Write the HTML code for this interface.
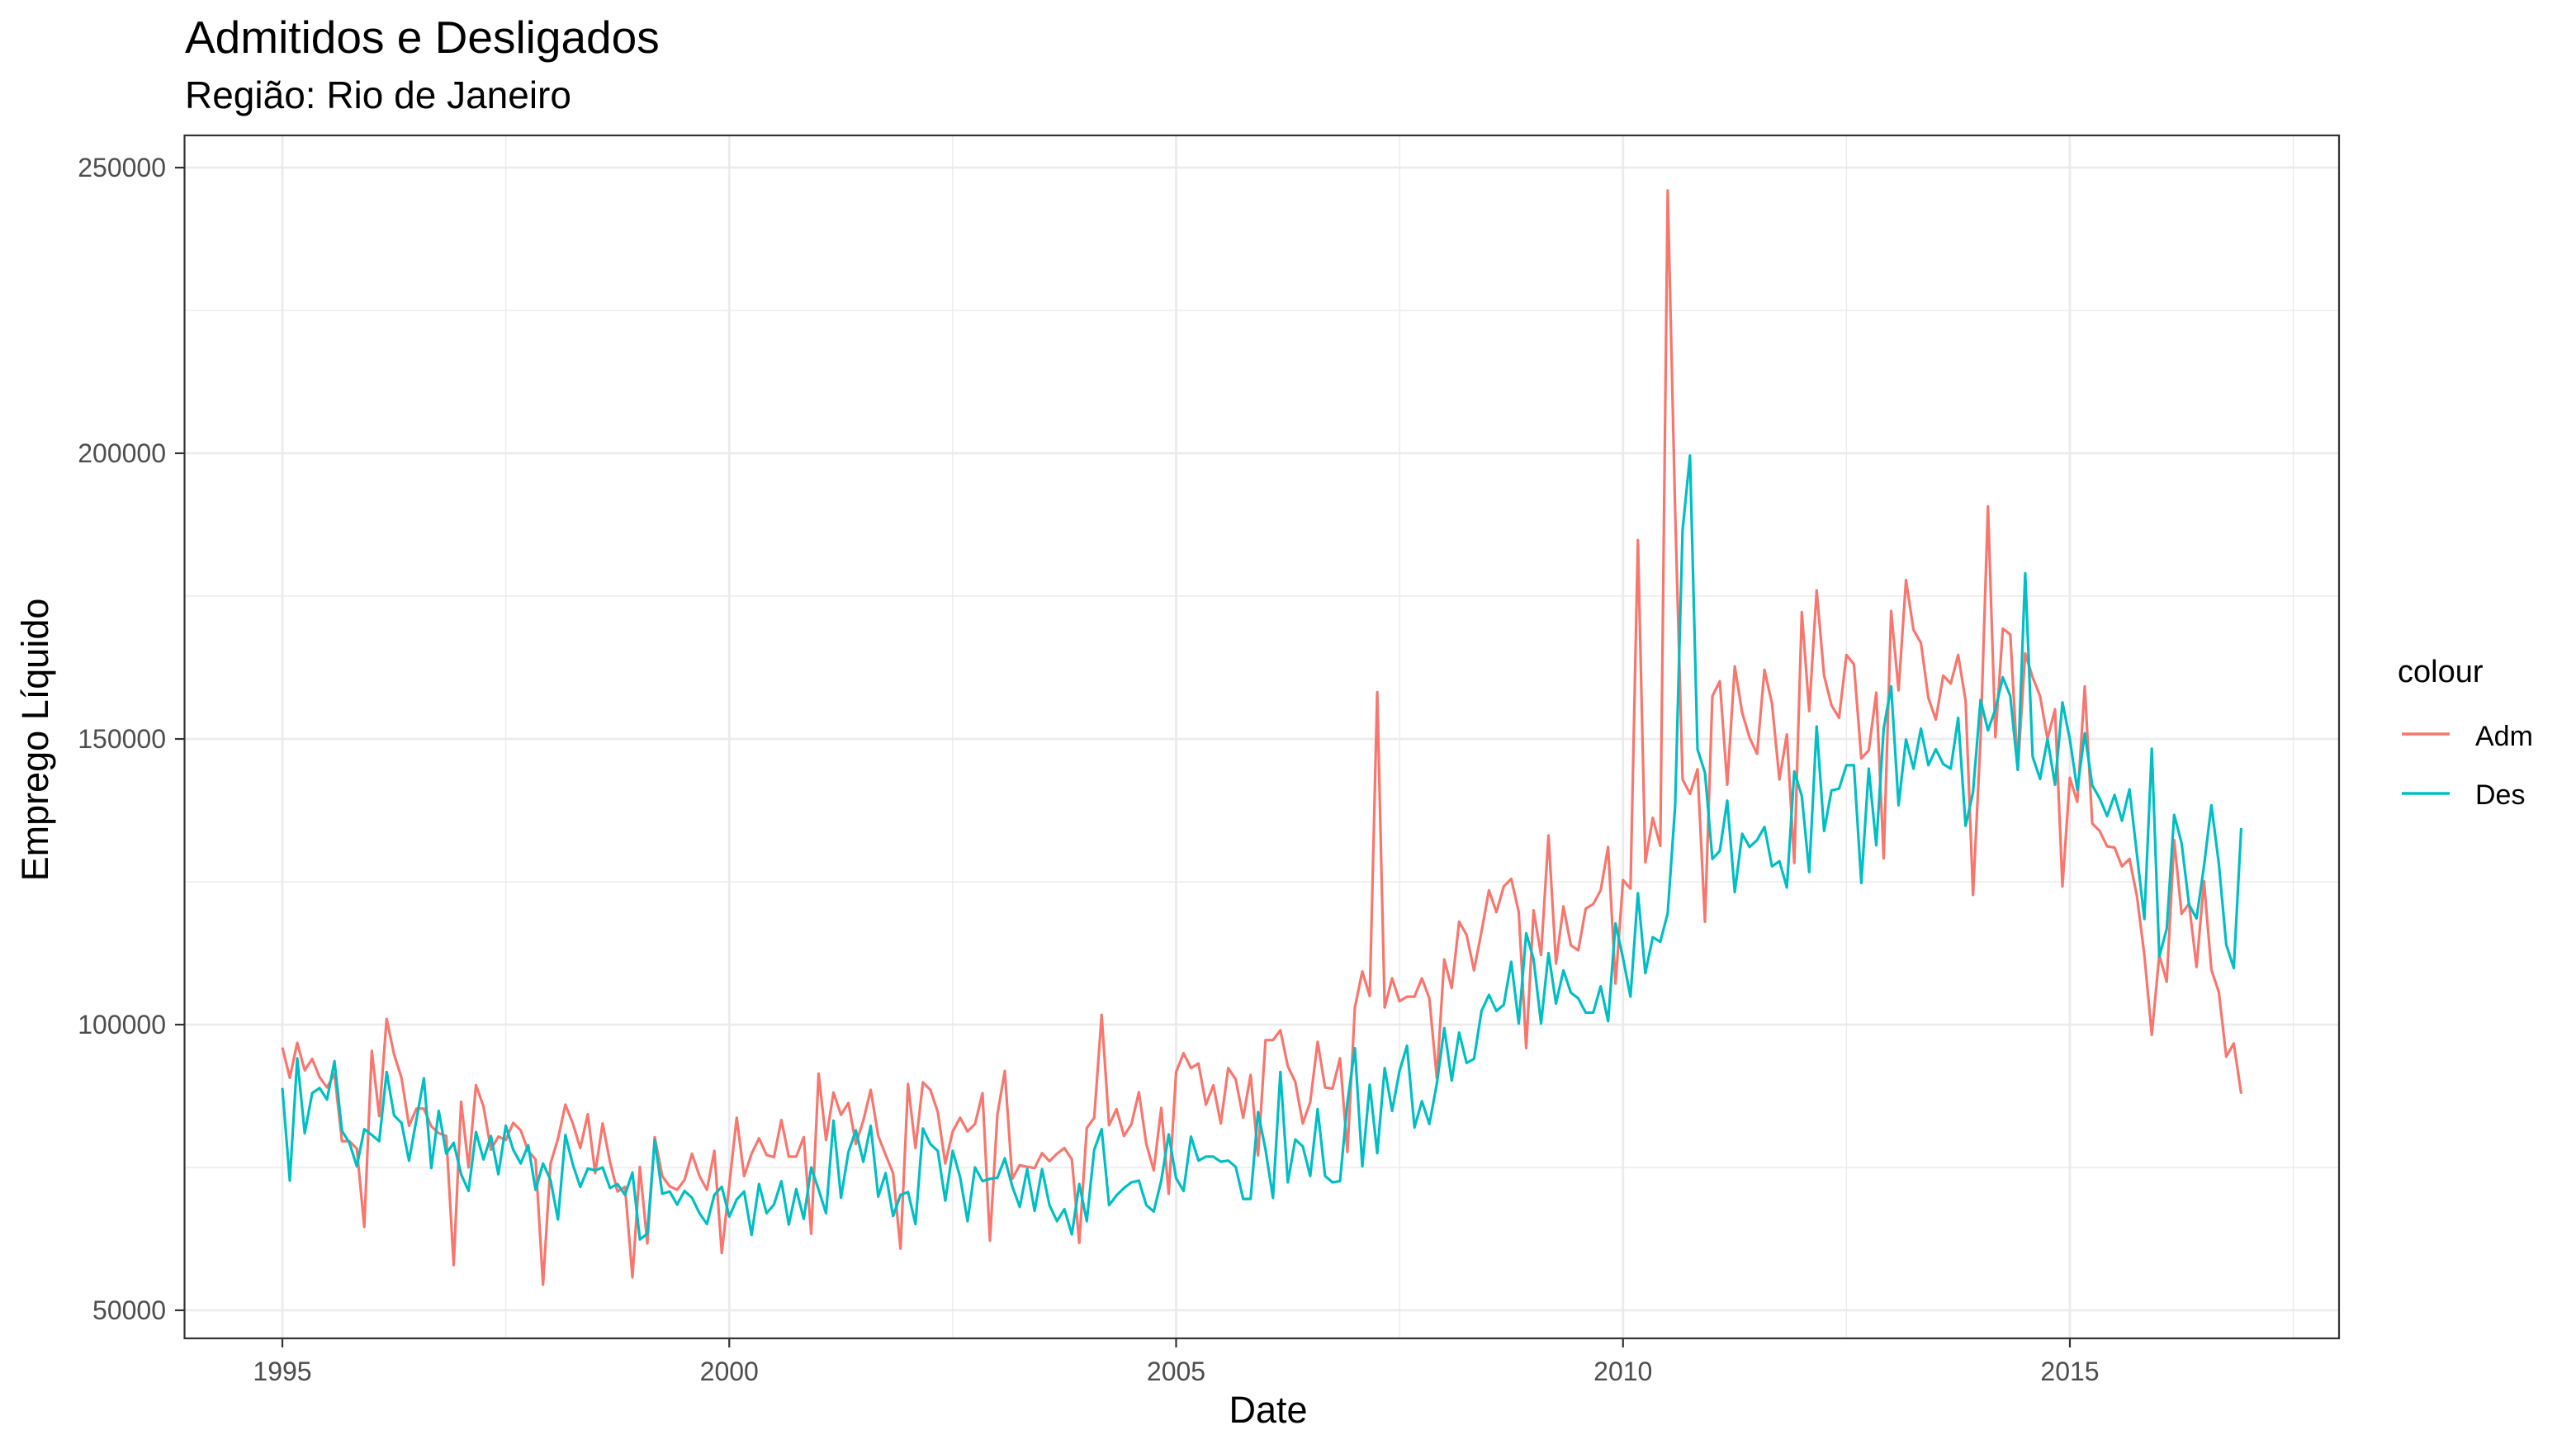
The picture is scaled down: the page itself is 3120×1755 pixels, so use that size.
<!DOCTYPE html>
<html><head><meta charset="utf-8"><style>
html,body{margin:0;padding:0;background:#fff;}
svg{display:block;font-family:"Liberation Sans",Arial,sans-serif;}
</style></head><body>
<svg id="chart" width="3120" height="1755" viewBox="0 0 3120 1755" xmlns="http://www.w3.org/2000/svg">
<rect x="0" y="0" width="3120" height="1755" fill="#fff"/>
<text x="224" y="64" font-size="55" fill="#000">Admitidos e Desligados</text>
<text x="224" y="131" font-size="46" fill="#000">Região: Rio de Janeiro</text>
<g id="grid"></g>
<g id="series"></g>
<rect x="223.5" y="164" width="2609.5" height="1457" fill="none" stroke="#333" stroke-width="2.2"/>
<g id="axes"></g>
<text x="1536" y="1723" font-size="45" text-anchor="middle" fill="#000">Date</text>
<text x="0" y="0" font-size="45" text-anchor="middle" fill="#000" transform="translate(58,896) rotate(-90)">Emprego Líquido</text>
<g>
<text x="2904" y="826" font-size="38" fill="#000">colour</text>
<line x1="2909" y1="889" x2="2967" y2="889" stroke="#F8766D" stroke-width="3.5"/>
<text x="2998" y="903" font-size="34" fill="#000">Adm</text>
<line x1="2909" y1="961" x2="2967" y2="961" stroke="#00BFC4" stroke-width="3.5"/>
<text x="2998" y="974" font-size="34" fill="#000">Des</text>
</g>
</svg>
<script>
const startYear = 1995;
const admValues = [
96,90.7,96.8,92,94,90.8,89,91.4,79.6,79.6,78.3,64.6,
95.4,84,101,94.8,90.7,82.3,85.3,85.3,82.2,81,80.5,57.9,
86.5,75,89.4,85.7,78.1,80.4,79.8,82.8,81.5,77.9,76.4,54.5,
75.7,80,86,82.7,78.4,84.3,74,82.7,75.9,70.8,71.6,55.8,
75.1,61.7,80.3,73.5,71.7,71.1,72.8,77.4,73.5,71.1,77.9,60,
72,83.7,73.5,77.4,80.1,77.2,76.8,83.3,76.9,76.9,80.3,63.4,
91.4,79.8,88.1,84.2,86.3,79.1,83.2,88.6,80.5,77.2,74,60.8,
89.6,78.4,89.9,88.6,84.7,75.7,81.3,83.7,81.3,82.6,88,62.2,
84.2,91.9,73,75.4,75.1,74.9,77.5,76.1,77.4,78.4,76.4,61.8,
81.9,83.7,101.7,82.4,85.2,80.5,82.6,88.2,79.1,74.5,85.4,70.4,
91.7,95,92.4,93.2,86,89.4,82.7,92.4,90.4,83.7,91.2,77.1,
97.3,97.3,99,92.7,90,82.7,86.4,97,89,88.8,94.1,77.7,
103,109.3,105,158.2,103,108.1,104.1,104.9,104.9,108.1,104.6,90.7,
111.4,106.4,118,115.7,109.5,116.3,123.5,119.7,124.2,125.5,119.7,95.9,
120,112.2,133.1,110.7,120.7,113.9,113,120.3,121.1,123.5,131.1,107.2,
125.3,123.8,184.8,128.4,136.2,131.3,246,190,142.9,140.4,144.7,118,
157.5,160.1,142,162.7,154.6,150.2,147.4,162.1,156.2,142.9,150.8,128.3,
172.2,154.9,176,161.1,155.9,153.7,164.7,163.1,146.6,148,158.1,129.1,
172.4,158.5,177.8,169.1,166.8,157.2,153.4,161.1,159.7,164.7,156.7,122.7,
150,190.7,150.3,169.3,168.3,144.6,165,160.8,157.5,150,155.2,124.2,
143.2,139,159.2,135.2,133.9,131.2,131,127.7,129,122.5,112.2,98.2,
112.2,107.5,132.3,119.4,121.2,110.1,125.1,109.6,105.7,94.4,96.7,87.9];
const desValues = [
88.9,72.7,94.1,81,88,88.9,86.9,93.6,81.4,79.3,75.2,81.7,
80.7,79.6,91.7,84.1,82.8,76.2,83.4,90.6,74.9,84.9,77.4,79.3,
73.8,70.9,81.2,76.4,80.5,73.8,82.3,78.1,75.7,78.9,71.1,75.7,
72.8,65.9,80.7,75.5,71.6,74.8,74.5,75,71.4,72.1,70.2,74.1,
62.4,63.4,79.8,70.4,70.8,68.5,70.9,69.7,67,65.1,70.2,71.6,
66.4,69.4,70.8,63.2,72.1,67,68.5,72.6,65,71.2,66,75,
71.1,67,83.2,69.7,77.7,81.5,76,82.3,69.9,74,66.5,70.2,
70.7,65.1,81.8,79.1,77.9,69.2,77.9,73.3,65.6,75,72.6,73,
73.2,76.6,71.7,68.1,74.7,67.4,74.7,68.4,65.6,67.7,63.3,72.1,
65.6,78.1,81.7,68.4,70.1,71.4,72.4,72.7,68.4,67.3,72.7,80.8,
73.1,70.9,80.4,76.2,76.9,76.9,76,76.2,75.1,69.5,69.5,84.7,
78.1,69.7,91.7,72.4,79.9,78.7,73.5,85.2,73.5,72.4,72.6,86.4,
95.9,75.2,89.5,77.5,92.4,84.9,91.9,96.3,82,86.6,82.6,89.6,
99.4,90.2,98.6,93.3,94,102.4,105.2,102.4,103.5,111,100.2,116,
111.4,100.2,112.5,103.7,109.5,105.6,104.6,102.1,102.1,106.7,100.6,117.7,
111.6,104.9,123,109,115.3,114.5,119.5,138.3,186.5,199.6,148.2,144.1,
129,130.4,139.2,123.2,133.4,131.1,132.3,134.6,127.7,128.6,124,144.3,
140,126.7,152.2,133.9,141,141.3,145.4,145.4,124.8,144.8,131.4,151.8,
159.2,138.4,149.9,144.8,151.8,145.4,148.2,145.6,144.8,153.7,134.8,140.7,
156.8,151.5,155.2,160.8,157.5,144.6,179,146.9,143,150,142,156.4,
149.9,141.1,151,141.9,139.6,136.5,140.2,135.7,141.2,129.8,118.5,148.3,
111.9,116.8,136.7,131.8,121,118.6,127.7,138.4,128.2,114,109.9,134.4];
const xTickLabels = ["1995","2000","2005","2010","2015"];
const xTickYears = [1995,2000,2005,2010,2015];
const xMinorYears = [1997.5,2002.5,2007.5,2012.5,2017.5];
const yTickLabels = ["50000","100000","150000","200000","250000"];
const yTickValues = [50000,100000,150000,200000,250000];
const yMinorValues = [75000,125000,175000,225000];

const NS = "http://www.w3.org/2000/svg";
const PL = 223.5, PR = 2833, PT = 164, PB = 1621;
function xScale(year){ return 342 + (year - 1995) * 108.25; }
function yScale(v){ return 1587 - (v - 50000) * (1384 / 200000); }
function mk(tag, attrs, parent){
  const el = document.createElementNS(NS, tag);
  for (const k in attrs) el.setAttribute(k, attrs[k]);
  parent.appendChild(el);
  return el;
}
const grid = document.getElementById('grid');
yMinorValues.forEach(v => {
  const l = mk('line', {x1:PL, x2:PR, y1:yScale(v), y2:yScale(v), stroke:'#ebebeb', 'stroke-width':1.4}, grid);
  
  
});
xMinorYears.forEach(y => {
  const l = mk('line', {x1:xScale(y), x2:xScale(y), y1:PT, y2:PB, stroke:'#ebebeb', 'stroke-width':1.4}, grid);
  
  
});
yTickValues.forEach(v => {
  const l = mk('line', {x1:PL, x2:PR, y1:yScale(v), y2:yScale(v), stroke:'#ebebeb', 'stroke-width':2.8}, grid);
  
  
});
xTickYears.forEach(y => {
  const l = mk('line', {x1:xScale(y), x2:xScale(y), y1:PT, y2:PB, stroke:'#ebebeb', 'stroke-width':2.8}, grid);
  
  
});
const series = document.getElementById('series');
function drawSeries(values, color, name){
  const pts = values.map((v, i) => xScale(startYear + i / 12).toFixed(1) + ',' + yScale(v * 1000).toFixed(1)).join(' ');
  const p = mk('polyline', {points: pts, fill:'none', stroke:color, 'stroke-width':3.2, 'stroke-linejoin':'round'}, series);
  
  
}
drawSeries(admValues, '#F8766D', 'adm-line');
drawSeries(desValues, '#00BFC4', 'des-line');
const axes = document.getElementById('axes');
yTickValues.forEach((v, i) => {
  const t = mk('line', {x1:212, x2:PL, y1:yScale(v), y2:yScale(v), stroke:'#333', 'stroke-width':2.2}, axes);
  
  
  const lb = mk('text', {x:201, y:yScale(v) + 11, 'font-size':32, 'text-anchor':'end', fill:'#4d4d4d'}, axes);
  lb.textContent = yTickLabels[i];
  
  
});
xTickYears.forEach((y, i) => {
  const t = mk('line', {x1:xScale(y), x2:xScale(y), y1:PB, y2:PB + 11, stroke:'#333', 'stroke-width':2.2}, axes);
  
  
  const lb = mk('text', {x:xScale(y), y:1672, 'font-size':32, 'text-anchor':'middle', fill:'#4d4d4d'}, axes);
  lb.textContent = xTickLabels[i];
  
  
});
</script>
</body></html>
